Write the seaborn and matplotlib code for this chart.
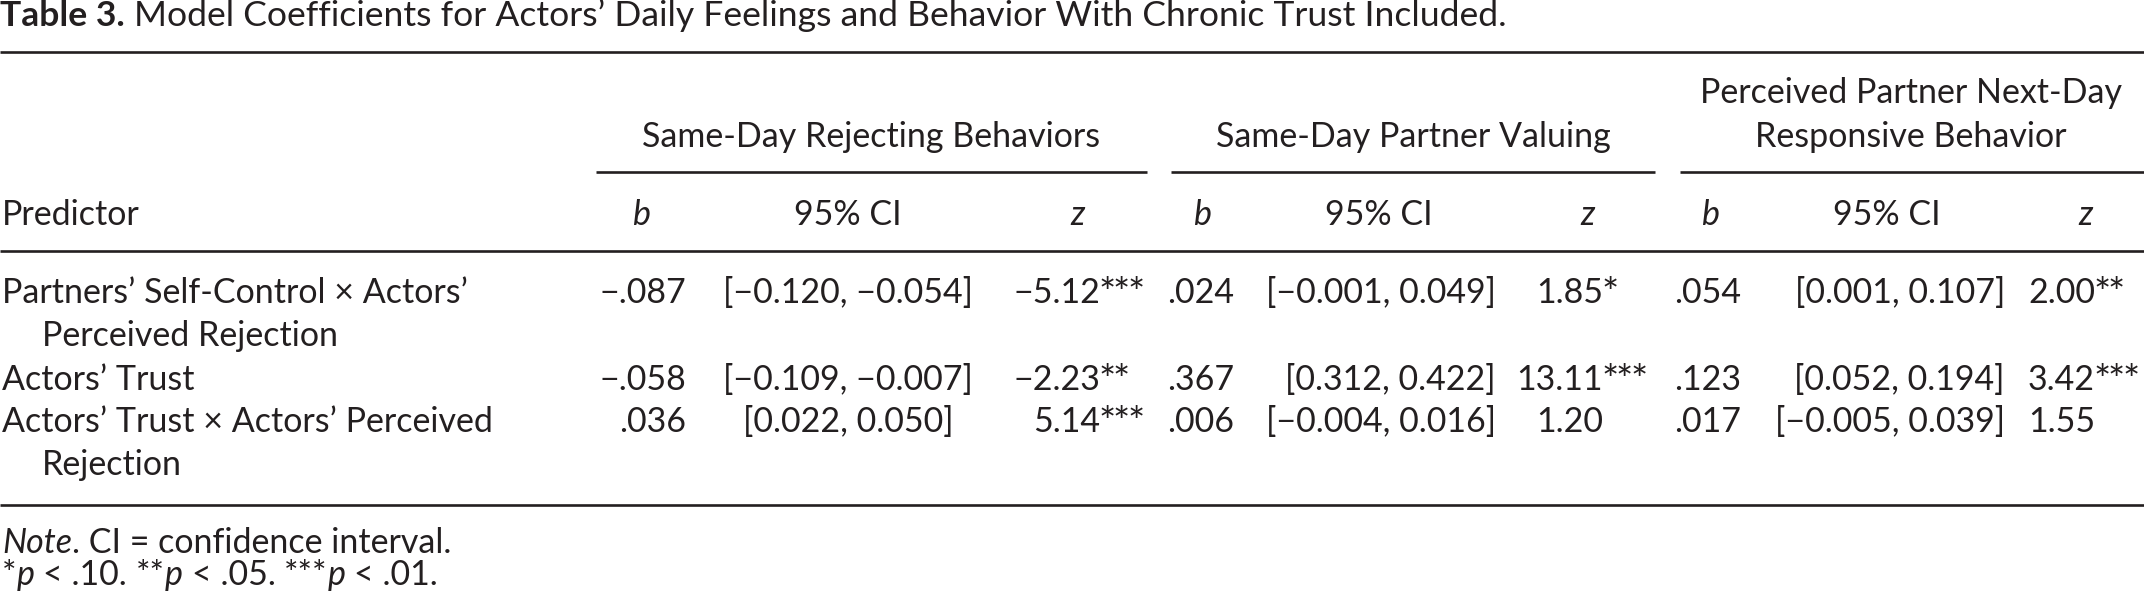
import matplotlib
matplotlib.use("Agg")
import matplotlib.pyplot as plt
import seaborn as sns

sns.set_theme(style="white")
plt.rcParams['font.family'] = ['Lato', 'DejaVu Sans']

# ---------------- data ----------------
title_bold = "Table 3."
title_rest = " Model Coefficients for Actors’ Daily Feelings and Behavior With Chronic Trust Included."

outcome_line1 = ["", "", "Perceived Partner Next-Day"]
outcome_line2 = ["Same-Day Rejecting Behaviors", "Same-Day Partner Valuing", "Responsive Behavior"]
col_labels = ["b", "95% CI", "z"]
stub_label = "Predictor"

predictor_line1 = ["Partners’ Self-Control × Actors’", "Actors’ Trust",
                   "Actors’ Trust × Actors’ Perceived"]
predictor_line2 = ["Perceived Rejection", "", "Rejection"]

b_rej = [-0.087, -0.058, 0.036]
ci_lo_rej = [-0.120, -0.109, 0.022]
ci_hi_rej = [-0.054, -0.007, 0.050]
z_rej = [-5.12, -2.23, 5.14]
sig_rej = ["***", "**", "***"]

b_val = [0.024, 0.367, 0.006]
ci_lo_val = [-0.001, 0.312, -0.004]
ci_hi_val = [0.049, 0.422, 0.016]
z_val = [1.85, 13.11, 1.20]
sig_val = ["*", "***", ""]

b_resp = [0.054, 0.123, 0.017]
ci_lo_resp = [0.001, 0.052, -0.005]
ci_hi_resp = [0.107, 0.194, 0.039]
z_resp = [2.00, 3.42, 1.55]
sig_resp = ["**", "***", ""]

note_label = "Note"
note_text = ". CI = confidence interval."
sig_marks = ["*", "**", "***"]
p_cutoffs = [".10", ".05", ".01"]

# ---------------- formatting ----------------
MINUS = "\u2212"

def fmt_b(v):
    return (MINUS if v < 0 else "") + f"{abs(v):.3f}".lstrip("0")

def fmt_ci(lo, hi):
    f = lambda v: (MINUS if v < 0 else "") + f"{abs(v):.3f}"
    return f"[{f(lo)}, {f(hi)}]"

def fmt_z(v):
    return (MINUS if v < 0 else "") + f"{abs(v):.2f}"

groups = [
    dict(b=b_rej, lo=ci_lo_rej, hi=ci_hi_rej, z=z_rej, sig=sig_rej),
    dict(b=b_val, lo=ci_lo_val, hi=ci_hi_val, z=z_val, sig=sig_val),
    dict(b=b_resp, lo=ci_lo_resp, hi=ci_hi_resp, z=z_resp, sig=sig_resp),
]

# ---------------- layout ----------------
W, H = 2144, 600
INK = "#231f20"
fig = plt.figure(figsize=(W / 100, H / 100), dpi=100)
fig.patch.set_facecolor("white")
ax = fig.add_axes([0, 0, 1, 1])
ax.set_xlim(0, W)
ax.set_ylim(H, 0)
ax.axis("off")
renderer = fig.canvas.get_renderer()


def measure(s, fs, **kw):
    t = ax.text(0, 0, s, fontsize=fs, **kw)
    w = t.get_window_extent(renderer).width
    t.remove()
    return w


def seg_width(s, fs, **kw):
    return measure("|" + s + "|", fs, **kw) - measure("||", fs, **kw)


# fit font sizes to the reference text widths
FS = 20 * 458 / measure("Same-Day Rejecting Behaviors", 20)
title_total = seg_width(title_bold, 20, fontweight="bold") + seg_width(title_rest, 20)
FS_T = 20 * 1506 / title_total
FS_STAR = FS * 1.2
STAR_PITCH = 14.5


def txt(x, y, s, ha="left", fs=None, **kw):
    ax.text(x, y, s, ha=ha, va="baseline", fontsize=fs or FS, color=INK, **kw)


def segments(x, y, segs, fs):
    for s, kw in segs:
        lead = len(s) - len(s.lstrip(" "))
        core = s.strip(" ")
        sp = seg_width(" " * lead, fs, **kw) if lead else 0
        if core:
            ax.text(x + sp, y, core, ha="left", va="baseline", fontsize=fs,
                    color=INK, **kw)
        x += seg_width(s, fs, **kw)


def stars(x, y, marks):
    for k, m in enumerate(marks):
        txt(x + 7 + k * STAR_PITCH, y + 4, m, ha="center", fs=FS_STAR)


def rule(y, x0=0, x1=W, lw=1.9):
    ax.plot([x0, x1], [y, y], color=INK, lw=lw, solid_capstyle="butt")


# title
segments(0, 26, [(title_bold, dict(fontweight="bold")), (title_rest, {})], FS_T)

# rules
rule(52)
rule(251)
rule(505)

head_center = [871, 1413, 1911]
rule_span = [(596, 1147), (1171, 1655), (1680, W)]
b_head = [642, 1203, 1711]
ci_head = [848, 1379, 1887]
z_head = [1077, 1588, 2086]
b_right = [686, 1234, 1741]
ci_x = [848, 1496, 2005]
ci_ha = ["center", "right", "right"]
z_right = [1100, 1603, 2095]

for g in range(3):
    if outcome_line1[g]:
        txt(head_center[g], 103, outcome_line1[g], ha="center")
    txt(head_center[g], 147, outcome_line2[g], ha="center")
    rule(172, *rule_span[g])
    txt(b_head[g], 225, col_labels[0], ha="center", fontstyle="italic")
    txt(ci_head[g], 225, col_labels[1], ha="center")
    txt(z_head[g], 225, col_labels[2], ha="center", fontstyle="italic")

txt(2, 225, stub_label)

row_base = [303, 390, 432]
wrap_gap = 43
for i in range(3):
    y = row_base[i]
    txt(2, y, predictor_line1[i])
    if predictor_line2[i]:
        txt(42, y + wrap_gap, predictor_line2[i])
    for g, d in enumerate(groups):
        txt(b_right[g], y, fmt_b(d["b"][i]), ha="right")
        txt(ci_x[g], y, fmt_ci(d["lo"][i], d["hi"][i]), ha=ci_ha[g])
        txt(z_right[g], y, fmt_z(d["z"][i]), ha="right")
        if d["sig"][i]:
            stars(z_right[g], y, d["sig"][i])

# notes
segments(2, 553, [(note_label, dict(fontstyle="italic")), (note_text, {})], FS)
foot = []
for k, (m, p) in enumerate(zip(sig_marks, p_cutoffs)):
    foot.append(((" " if k else "") + m, {}))
    foot.append(("p", dict(fontstyle="italic")))
    foot.append((f" < {p}.", {}))
segments(2, 585, foot, FS)

fig.savefig("out.png", dpi=100, facecolor="white")
